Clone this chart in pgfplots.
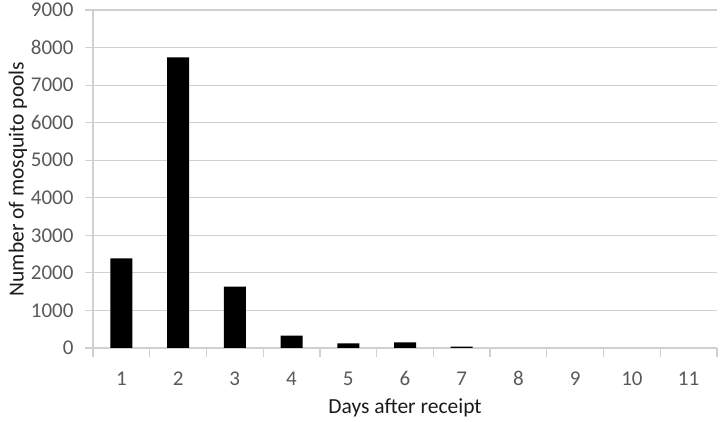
\documentclass[border=0pt]{standalone}
\usepackage{pgfplots}
\pgfplotsset{compat=1.18}
\usepackage{fontspec}
\setmainfont{Carlito}
\definecolor{gridc}{HTML}{D0D0D0}
\definecolor{tickc}{HTML}{595959}
\definecolor{labc}{HTML}{1A1A1A}
\begin{document}
\begin{tikzpicture}
\begin{axis}[
  scale only axis,
  width=624pt, height=338pt,
  xmin=0.5, xmax=11.5,
  ymin=0, ymax=9000,
  ytick={0,1000,...,9000},
  xtick={1,...,11},
  minor xtick={0.5,1.5,...,11.5},
  axis x line=bottom, axis y line=left,
  axis line style={-, draw=gridc, line width=1.2pt},
  ymajorgrids, grid style={draw=gridc, line width=1.2pt},
  tick align=outside,
  major tick length=8pt, minor tick length=9pt,
  major x tick style={draw=none},
  minor x tick style={draw=gridc, line width=1.2pt},
  major y tick style={draw=gridc, line width=1.2pt},
  /pgf/number format/1000 sep={},
  /pgf/number format/assume math mode=true,
  tick label style={font=\fontsize{21}{25}\selectfont, text=tickc},
  yticklabel style={xshift=-8pt},
  xticklabel style={yshift=-12pt},
  xlabel={Days after receipt},
  ylabel={Number of mosquito pools},
  label style={font=\fontsize{21.5}{25}\selectfont, text=labc},
  xlabel style={at={(axis description cs:0.5,0)}, anchor=center, yshift=-60pt},
  ylabel style={at={(axis description cs:0,0.5)}, anchor=center, yshift=75pt},
]
\addplot[ybar, bar width=22pt, fill=black, draw=none, restrict y to domain=1:100000] coordinates {
(1,2385) (2,7740) (3,1635) (4,330) (5,125) (6,150) (7,35) (8,0) (9,0) (10,0) (11,0)
};
\end{axis}
\pgfresetboundingbox
\path (-93pt,-74pt) rectangle (627pt,348pt);
\end{tikzpicture}
\end{document}
